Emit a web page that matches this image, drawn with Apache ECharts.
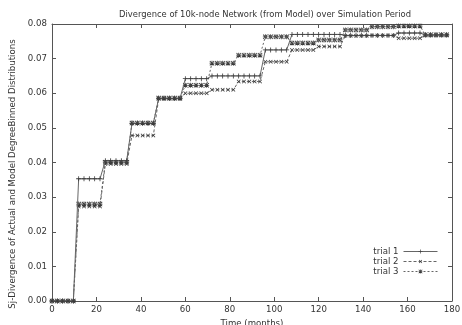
<!DOCTYPE html>
<html>
<head>
<meta charset="utf-8">
<script src="https://cdn.jsdelivr.net/npm/echarts@6/dist/echarts.min.js"></script>
<style>
  html, body { margin: 0; padding: 0; background: #fff; }
  #chart { width: 462px; height: 325px; }
</style>
</head>
<body>
<div id="chart"></div>
<script>
// sample spacing (months) of the simulation output
const sampleStep = 2.4

const xTicks = [0, 20, 40, 60, 80, 100, 120, 140, 160, 180]
const yTicks = [0, 0.01, 0.02, 0.03, 0.04, 0.05, 0.06, 0.07, 0.08]

// values, one line per simulated year (5 samples each)
const trial1 = [
  0, 0, 0, 0, 0,
  0.0353, 0.0353, 0.0353, 0.0353, 0.0353,
  0.0405, 0.0405, 0.0405, 0.0405, 0.0405,
  0.0513, 0.0513, 0.0513, 0.0513, 0.0513,
  0.0585, 0.0585, 0.0585, 0.0585, 0.0585,
  0.0642, 0.0642, 0.0642, 0.0642, 0.0642,
  0.0650, 0.0650, 0.0650, 0.0650, 0.0650,
  0.0650, 0.0650, 0.0650, 0.0650, 0.0650,
  0.0725, 0.0725, 0.0725, 0.0725, 0.0725,
  0.0770, 0.0770, 0.0770, 0.0770, 0.0770,
  0.0770, 0.0770, 0.0770, 0.0770, 0.0770,
  0.0767, 0.0767, 0.0767, 0.0767, 0.0767,
  0.0767, 0.0767, 0.0767, 0.0767, 0.0767,
  0.0774, 0.0774, 0.0774, 0.0774, 0.0774,
  0.0768, 0.0768, 0.0768, 0.0768, 0.0768
]
const trial2 = [
  0, 0, 0, 0, 0,
  0.0273, 0.0273, 0.0273, 0.0273, 0.0273,
  0.0396, 0.0396, 0.0396, 0.0396, 0.0396,
  0.0478, 0.0478, 0.0478, 0.0478, 0.0478,
  0.0584, 0.0584, 0.0584, 0.0584, 0.0584,
  0.0600, 0.0600, 0.0600, 0.0600, 0.0600,
  0.0610, 0.0610, 0.0610, 0.0610, 0.0610,
  0.0634, 0.0634, 0.0634, 0.0634, 0.0634,
  0.0691, 0.0691, 0.0691, 0.0691, 0.0691,
  0.0725, 0.0725, 0.0725, 0.0725, 0.0725,
  0.0735, 0.0735, 0.0735, 0.0735, 0.0735,
  0.0766, 0.0766, 0.0766, 0.0766, 0.0766,
  0.0767, 0.0767, 0.0767, 0.0767, 0.0767,
  0.0759, 0.0759, 0.0759, 0.0759, 0.0759,
  0.0767, 0.0767, 0.0767, 0.0767, 0.0767
]
const trial3 = [
  0, 0, 0, 0, 0,
  0.0280, 0.0280, 0.0280, 0.0280, 0.0280,
  0.0401, 0.0401, 0.0401, 0.0401, 0.0401,
  0.0514, 0.0514, 0.0514, 0.0514, 0.0514,
  0.0586, 0.0586, 0.0586, 0.0586, 0.0586,
  0.0623, 0.0623, 0.0623, 0.0623, 0.0623,
  0.0687, 0.0687, 0.0687, 0.0687, 0.0687,
  0.0710, 0.0710, 0.0710, 0.0710, 0.0710,
  0.0763, 0.0763, 0.0763, 0.0763, 0.0763,
  0.0745, 0.0745, 0.0745, 0.0745, 0.0745,
  0.0754, 0.0754, 0.0754, 0.0754, 0.0754,
  0.0783, 0.0783, 0.0783, 0.0783, 0.0783,
  0.0792, 0.0792, 0.0792, 0.0792, 0.0792,
  0.0794, 0.0794, 0.0794, 0.0794, 0.0794,
  0.0769, 0.0769, 0.0769, 0.0769, 0.0769
]

const trialNames = ['trial 1', 'trial 2', 'trial 3']

// gnuplot-ish point shapes
const plusPath = 'path://M4.2,0H5.8V4.2H10V5.8H5.8V10H4.2V5.8H0V4.2H4.2Z'
const starPath = 'path://M4.2,0H5.8V4.2H10V5.8H5.8V10H4.2V5.8H0V4.2H4.2Z' +
  'M0,1.2L1.2,0L10,8.8L8.8,10ZM10,1.2L8.8,0L0,8.8L1.2,10Z'

const font = 'DejaVu Sans'
const textColor = '#333'
const lineColor = '#555'

function toPoints(values) {
  return values.map((v, i) => [+(i * sampleStep).toFixed(1), v])
}

const seriesStyle = [
  { symbol: plusPath, rotate: 0, type: 'solid', size: 5 },
  { symbol: plusPath, rotate: 45, type: [3, 2], size: 5 },
  { symbol: starPath, rotate: 0, type: [2, 2], size: 5 }
]

const series = [trial1, trial2, trial3].map((vals, i) => ({
  name: trialNames[i],
  type: 'line',
  data: toPoints(vals),
  symbol: seriesStyle[i].symbol,
  symbolRotate: seriesStyle[i].rotate,
  symbolSize: seriesStyle[i].size,
  showAllSymbol: true,
  lineStyle: { color: '#666', width: 1, type: seriesStyle[i].type },
  itemStyle: { color: '#3a3a3a', borderWidth: 0 },
  animation: false,
  z: 3 - i
}))

const axisLine = { show: true, onZero: false, lineStyle: { color: lineColor, width: 1 } }
const tickIn = { show: true, inside: true, length: 4, lineStyle: { color: lineColor } }

const option = {
  animation: false,
  title: {
    text: 'Divergence of 10k-node Network (from Model) over Simulation Period',
    left: 114,
    top: 6,
    textStyle: { fontFamily: font, fontSize: 8.4, fontWeight: 'normal', color: textColor }
  },
  legend: {
    data: trialNames,
    orient: 'vertical',
    align: 'right',
    right: 19,
    top: 242,
    itemGap: 1,
    itemWidth: 34,
    itemHeight: 5,
    lineStyle: { width: 1 },
    textStyle: { fontFamily: font, fontSize: 8.6, color: textColor }
  },
  grid: { left: 52, right: 10, top: 24, bottom: 24, outerBoundsMode: 'none' },
  graphic: [{
    type: 'text',
    x: 13,
    y: 174,
    rotation: Math.PI / 2,
    style: {
      text: 'Sj-Divergence of Actual and Model DegreeBinned Distributions',
      font: '8.6px "DejaVu Sans"',
      fill: textColor,
      align: 'center',
      verticalAlign: 'middle'
    }
  }],
  xAxis: [
    {
      type: 'value', min: xTicks[0], max: xTicks[xTicks.length - 1], interval: 20,
      name: 'Time (months)', nameLocation: 'middle', nameGap: 17,
      nameTextStyle: { fontFamily: font, fontSize: 8.6, color: textColor },
      axisLine, axisTick: tickIn, splitLine: { show: false },
      axisLabel: { fontFamily: font, fontSize: 8.6, color: textColor, margin: 4 }
    },
    {
      type: 'value', position: 'top', min: xTicks[0], max: xTicks[xTicks.length - 1], interval: 20,
      axisLine, axisTick: tickIn, splitLine: { show: false }, axisLabel: { show: false }
    }
  ],
  yAxis: [
    {
      type: 'value', min: yTicks[0], max: yTicks[yTicks.length - 1], interval: 0.01,
      axisLine, axisTick: tickIn, splitLine: { show: false },
      axisLabel: { fontFamily: font, fontSize: 8.6, color: textColor, margin: 5,
        formatter: v => v.toFixed(2) }
    },
    {
      type: 'value', position: 'right', min: yTicks[0], max: yTicks[yTicks.length - 1], interval: 0.01,
      axisLine, axisTick: tickIn, splitLine: { show: false }, axisLabel: { show: false }
    }
  ],
  series
}

const chart = echarts.init(document.getElementById('chart'), null, { renderer: 'canvas' })
chart.setOption(option)
</script>
</body>
</html>
